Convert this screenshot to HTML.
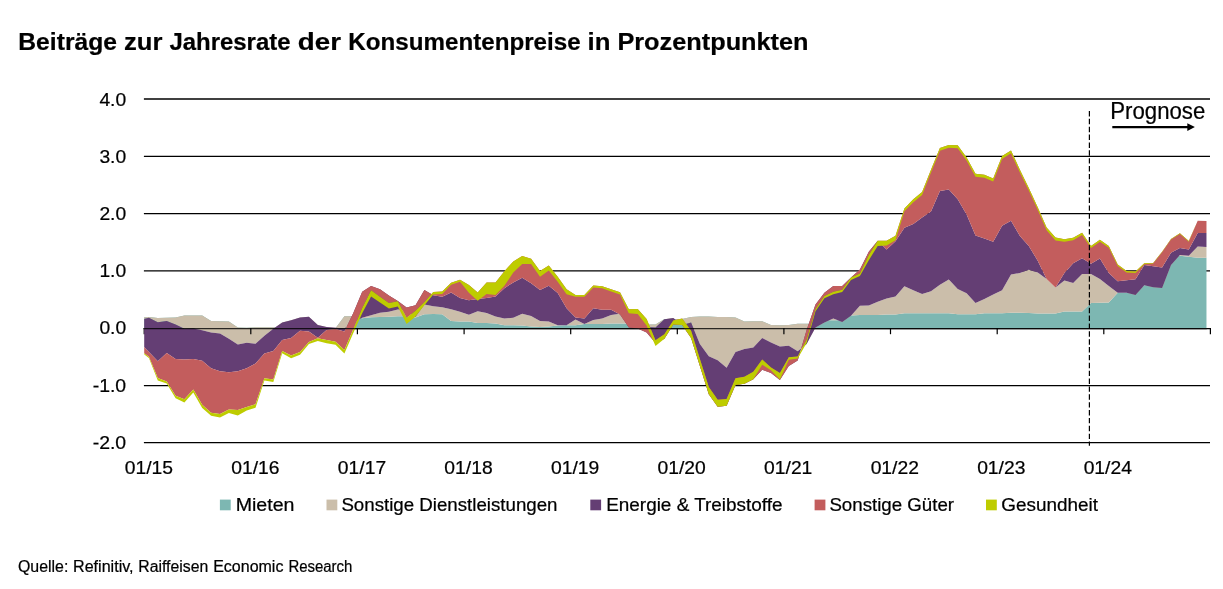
<!DOCTYPE html>
<html lang="de"><head><meta charset="utf-8"><title>Beiträge zur Jahresrate der Konsumentenpreise</title>
<style>html,body{margin:0;padding:0;background:#fff}svg{display:block}text{font-family:'Liberation Sans', Arial, sans-serif;fill:#000;stroke:#000;stroke-width:0.22px}</style></head><body>
<svg width="1223" height="589" viewBox="0 0 1223 589">
<rect width="1223" height="589" fill="#fff"/>
<text y="50.2" font-size="24.4" font-weight="bold"><tspan x="18.3" textLength="98.7" lengthAdjust="spacingAndGlyphs">Beiträge</tspan> <tspan x="124.0" textLength="38.4" lengthAdjust="spacingAndGlyphs">zur</tspan> <tspan x="169.4" textLength="121.1" lengthAdjust="spacingAndGlyphs">Jahresrate</tspan> <tspan x="297.8" textLength="43.2" lengthAdjust="spacingAndGlyphs">der</tspan> <tspan x="348.3" textLength="232.3" lengthAdjust="spacingAndGlyphs">Konsumentenpreise</tspan> <tspan x="587.6" textLength="22.9" lengthAdjust="spacingAndGlyphs">in</tspan> <tspan x="617.4" textLength="191.2" lengthAdjust="spacingAndGlyphs">Prozentpunkten</tspan></text>
<line x1="143.9" x2="1210.0" y1="99.00" y2="99.00" stroke="#000" stroke-width="1.3"/>
<line x1="143.9" x2="1210.0" y1="156.30" y2="156.30" stroke="#000" stroke-width="1.3"/>
<line x1="143.9" x2="1210.0" y1="213.70" y2="213.70" stroke="#000" stroke-width="1.3"/>
<line x1="143.9" x2="1210.0" y1="270.90" y2="270.90" stroke="#000" stroke-width="1.3"/>
<line x1="143.9" x2="1210.0" y1="385.55" y2="385.55" stroke="#000" stroke-width="1.3"/>
<line x1="143.9" x2="1210.0" y1="442.70" y2="442.70" stroke="#000" stroke-width="1.3"/>
<g font-size="18.5" text-anchor="end">
<text x="126.2" y="105.5" textLength="26.8" lengthAdjust="spacingAndGlyphs">4.0</text>
<text x="126.2" y="162.8" textLength="26.8" lengthAdjust="spacingAndGlyphs">3.0</text>
<text x="126.2" y="220.2" textLength="26.8" lengthAdjust="spacingAndGlyphs">2.0</text>
<text x="126.2" y="277.4" textLength="26.8" lengthAdjust="spacingAndGlyphs">1.0</text>
<text x="126.2" y="334.1" textLength="26.8" lengthAdjust="spacingAndGlyphs">0.0</text>
<text x="126.2" y="392.1" textLength="33.5" lengthAdjust="spacingAndGlyphs">-1.0</text>
<text x="126.2" y="449.2" textLength="33.5" lengthAdjust="spacingAndGlyphs">-2.0</text>
</g>
<line x1="143.6" x2="1211.0" y1="328.6" y2="328.6" stroke="#000" stroke-width="1.35"/>
<line x1="144.2" x2="144.2" y1="328" y2="334.2" stroke="#000" stroke-width="1.2"/>
<clipPath id="c"><rect x="144.2" y="90" width="1062.6" height="360"/></clipPath>
<g clip-path="url(#c)">
<path d="M140.0,317.5 L148.9,316.9 L157.8,318.1 L166.7,317.8 L175.6,317.5 L184.4,315.5 L193.3,315.5 L202.2,315.6 L211.1,321.0 L220.0,321.2 L228.9,321.4 L237.8,327.5 L246.7,327.7 L255.5,327.3 L264.4,327.3 L273.3,327.3 L282.2,327.3 L291.1,327.3 L300.0,327.3 L308.9,327.3 L317.8,327.9 L326.6,328.0 L335.5,328.2 L344.4,316.3 L353.3,316.3 L362.2,318.3 L371.1,317.3 L380.0,317.0 L388.9,316.8 L397.8,316.3 L406.6,316.3 L415.5,317.4 L424.4,314.3 L433.3,314.0 L442.2,314.3 L451.1,320.9 L460.0,321.5 L468.9,321.5 L477.7,323.1 L486.6,323.1 L495.5,323.5 L504.4,325.2 L513.3,325.2 L522.2,325.6 L531.1,326.6 L540.0,327.0 L548.8,326.6 L557.7,325.6 L566.6,325.2 L575.5,325.2 L584.4,324.1 L593.3,324.1 L602.2,324.1 L611.1,323.5 L620.0,323.5 L628.8,323.5 L637.7,324.5 L646.6,324.5 L655.5,324.5 L664.4,319.0 L673.3,319.0 L682.2,319.0 L691.1,316.9 L699.9,316.5 L708.8,316.5 L717.7,317.1 L726.6,317.1 L735.5,317.5 L744.4,321.6 L753.3,321.3 L762.2,321.2 L771.0,325.1 L779.9,325.3 L788.8,325.1 L797.7,323.8 L806.6,323.8 L815.5,323.8 L824.4,320.3 L833.3,320.3 L842.2,320.3 L851.0,315.5 L859.9,314.9 L868.8,314.9 L877.7,314.9 L886.6,314.5 L895.5,314.5 L904.4,313.3 L913.3,313.3 L922.1,313.3 L931.0,313.3 L939.9,313.3 L948.8,313.3 L957.7,314.3 L966.6,314.3 L975.5,314.3 L984.4,313.3 L993.2,313.3 L1002.1,313.3 L1011.0,312.7 L1019.9,312.7 L1028.8,313.0 L1037.7,313.6 L1046.6,313.6 L1055.5,313.6 L1064.4,311.6 L1073.2,311.6 L1082.1,311.6 L1091.0,303.0 L1099.9,302.8 L1108.8,302.4 L1117.7,292.8 L1126.6,292.8 L1135.5,292.8 L1144.3,285.3 L1153.2,285.3 L1162.1,285.3 L1171.0,255.8 L1179.9,255.8 L1188.8,256.8 L1197.7,257.8 L1206.6,257.8 L1206.6,328.3 L1197.7,328.3 L1188.8,328.3 L1179.9,328.3 L1171.0,328.3 L1162.1,328.3 L1153.2,328.3 L1144.3,328.3 L1135.5,328.3 L1126.6,328.3 L1117.7,328.3 L1108.8,328.3 L1099.9,328.3 L1091.0,328.3 L1082.1,328.3 L1073.2,328.3 L1064.4,328.3 L1055.5,328.3 L1046.6,328.3 L1037.7,328.3 L1028.8,328.3 L1019.9,328.3 L1011.0,328.3 L1002.1,328.3 L993.2,328.3 L984.4,328.3 L975.5,328.3 L966.6,328.3 L957.7,328.3 L948.8,328.3 L939.9,328.3 L931.0,328.3 L922.1,328.3 L913.3,328.3 L904.4,328.3 L895.5,328.3 L886.6,328.3 L877.7,328.3 L868.8,328.3 L859.9,328.3 L851.0,328.3 L842.2,328.3 L833.3,328.3 L824.4,328.3 L815.5,328.3 L806.6,328.3 L797.7,328.3 L788.8,328.3 L779.9,328.3 L771.0,328.3 L762.2,328.3 L753.3,328.3 L744.4,328.3 L735.5,328.3 L726.6,328.3 L717.7,328.3 L708.8,328.3 L699.9,328.3 L691.1,328.3 L682.2,328.3 L673.3,328.3 L664.4,328.3 L655.5,328.3 L646.6,328.3 L637.7,328.3 L628.8,328.3 L620.0,328.3 L611.1,328.3 L602.2,328.3 L593.3,328.3 L584.4,328.3 L575.5,328.3 L566.6,328.3 L557.7,328.3 L548.8,328.3 L540.0,328.3 L531.1,328.3 L522.2,328.3 L513.3,328.3 L504.4,328.3 L495.5,328.3 L486.6,328.3 L477.7,328.3 L468.9,328.3 L460.0,328.3 L451.1,328.3 L442.2,328.3 L433.3,328.3 L424.4,328.3 L415.5,328.3 L406.6,328.3 L397.8,328.3 L388.9,328.3 L380.0,328.3 L371.1,328.3 L362.2,328.3 L353.3,328.3 L344.4,328.3 L335.5,328.3 L326.6,328.3 L317.8,328.3 L308.9,328.3 L300.0,328.3 L291.1,328.3 L282.2,328.3 L273.3,328.3 L264.4,328.3 L255.5,328.3 L246.7,328.3 L237.8,328.3 L228.9,328.3 L220.0,328.3 L211.1,328.3 L202.2,328.3 L193.3,328.3 L184.4,328.3 L175.6,328.3 L166.7,328.3 L157.8,328.3 L148.9,328.3 L140.0,328.3Z" fill="#7DB7B2"/>
<path d="M140.0,320.1 L148.9,317.8 L157.8,322.2 L166.7,321.0 L175.6,324.5 L184.4,328.7 L193.3,328.5 L202.2,330.2 L211.1,332.6 L220.0,333.6 L228.9,338.7 L237.8,344.4 L246.7,342.8 L255.5,343.8 L264.4,335.8 L273.3,328.7 L282.2,322.6 L291.1,320.2 L300.0,317.5 L308.9,316.8 L317.8,325.0 L326.6,327.0 L335.5,327.7 L344.4,328.5 L353.3,322.0 L362.2,317.8 L371.1,315.2 L380.0,312.7 L388.9,311.7 L397.8,309.6 L406.6,310.0 L415.5,316.9 L424.4,304.6 L433.3,306.2 L442.2,307.2 L451.1,309.2 L460.0,311.8 L468.9,314.8 L477.7,311.3 L486.6,312.9 L495.5,316.4 L504.4,318.4 L513.3,317.8 L522.2,313.8 L531.1,316.0 L540.0,320.9 L548.8,321.5 L557.7,325.2 L566.6,325.2 L575.5,319.5 L584.4,323.9 L593.3,319.9 L602.2,318.4 L611.1,315.0 L620.0,313.8 L628.8,322.0 L637.7,326.0 L646.6,327.0 L655.5,327.6 L664.4,319.3 L673.3,317.9 L682.2,325.1 L691.1,322.6 L699.9,344.0 L708.8,356.2 L717.7,360.3 L726.6,367.8 L735.5,352.1 L744.4,349.1 L753.3,347.4 L762.2,338.0 L771.0,342.6 L779.9,346.5 L788.8,345.7 L797.7,351.3 L806.6,344.0 L815.5,327.5 L824.4,322.4 L833.3,318.6 L842.2,321.9 L851.0,315.8 L859.9,305.8 L868.8,305.4 L877.7,301.7 L886.6,298.6 L895.5,296.6 L904.4,286.2 L913.3,290.3 L922.1,294.0 L931.0,291.3 L939.9,284.8 L948.8,279.5 L957.7,288.9 L966.6,293.3 L975.5,302.9 L984.4,299.1 L993.2,294.4 L1002.1,290.3 L1011.0,274.6 L1019.9,273.0 L1028.8,269.8 L1037.7,272.5 L1046.6,279.1 L1055.5,287.4 L1064.4,280.4 L1073.2,283.1 L1082.1,273.9 L1091.0,273.9 L1099.9,279.0 L1108.8,286.1 L1117.7,292.8 L1126.6,292.8 L1135.5,294.9 L1144.3,285.3 L1153.2,287.3 L1162.1,287.9 L1171.0,264.9 L1179.9,255.1 L1188.8,255.8 L1197.7,246.6 L1206.6,247.0 L1206.6,257.8 L1197.7,257.8 L1188.8,256.8 L1179.9,255.8 L1171.0,255.8 L1162.1,285.3 L1153.2,285.3 L1144.3,285.3 L1135.5,292.8 L1126.6,292.8 L1117.7,292.8 L1108.8,302.4 L1099.9,302.8 L1091.0,303.0 L1082.1,311.6 L1073.2,311.6 L1064.4,311.6 L1055.5,313.6 L1046.6,313.6 L1037.7,313.6 L1028.8,313.0 L1019.9,312.7 L1011.0,312.7 L1002.1,313.3 L993.2,313.3 L984.4,313.3 L975.5,314.3 L966.6,314.3 L957.7,314.3 L948.8,313.3 L939.9,313.3 L931.0,313.3 L922.1,313.3 L913.3,313.3 L904.4,313.3 L895.5,314.5 L886.6,314.5 L877.7,314.9 L868.8,314.9 L859.9,314.9 L851.0,315.5 L842.2,320.3 L833.3,320.3 L824.4,320.3 L815.5,323.8 L806.6,323.8 L797.7,323.8 L788.8,325.1 L779.9,325.3 L771.0,325.1 L762.2,321.2 L753.3,321.3 L744.4,321.6 L735.5,317.5 L726.6,317.1 L717.7,317.1 L708.8,316.5 L699.9,316.5 L691.1,316.9 L682.2,319.0 L673.3,319.0 L664.4,319.0 L655.5,324.5 L646.6,324.5 L637.7,324.5 L628.8,323.5 L620.0,323.5 L611.1,323.5 L602.2,324.1 L593.3,324.1 L584.4,324.1 L575.5,325.2 L566.6,325.2 L557.7,325.6 L548.8,326.6 L540.0,327.0 L531.1,326.6 L522.2,325.6 L513.3,325.2 L504.4,325.2 L495.5,323.5 L486.6,323.1 L477.7,323.1 L468.9,321.5 L460.0,321.5 L451.1,320.9 L442.2,314.3 L433.3,314.0 L424.4,314.3 L415.5,317.4 L406.6,316.3 L397.8,316.3 L388.9,316.8 L380.0,317.0 L371.1,317.3 L362.2,318.3 L353.3,316.3 L344.4,316.3 L335.5,328.2 L326.6,328.0 L317.8,327.9 L308.9,327.3 L300.0,327.3 L291.1,327.3 L282.2,327.3 L273.3,327.3 L264.4,327.3 L255.5,327.3 L246.7,327.7 L237.8,327.5 L228.9,321.4 L220.0,321.2 L211.1,321.0 L202.2,315.6 L193.3,315.5 L184.4,315.5 L175.6,317.5 L166.7,317.8 L157.8,318.1 L148.9,316.9 L140.0,317.5Z" fill="#CBBEAA"/>
<path d="M140.0,343.0 L148.9,351.9 L157.8,361.3 L166.7,352.9 L175.6,359.1 L184.4,359.5 L193.3,359.1 L202.2,360.7 L211.1,368.3 L220.0,371.3 L228.9,372.3 L237.8,371.3 L246.7,368.3 L255.5,363.6 L264.4,353.6 L273.3,351.1 L282.2,339.9 L291.1,337.9 L300.0,330.7 L308.9,331.4 L317.8,337.7 L326.6,330.1 L335.5,329.0 L344.4,331.6 L353.3,313.0 L362.2,291.8 L371.1,286.0 L380.0,289.3 L388.9,295.4 L397.8,301.0 L406.6,307.6 L415.5,305.2 L424.4,290.1 L433.3,295.3 L442.2,296.7 L451.1,292.6 L460.0,298.0 L468.9,300.2 L477.7,299.1 L486.6,298.1 L495.5,296.6 L504.4,288.2 L513.3,282.4 L522.2,277.7 L531.1,283.2 L540.0,289.9 L548.8,285.8 L557.7,293.0 L566.6,308.3 L575.5,317.4 L584.4,318.4 L593.3,308.3 L602.2,309.7 L611.1,309.7 L620.0,314.4 L628.8,327.6 L637.7,328.6 L646.6,332.5 L655.5,342.9 L664.4,338.8 L673.3,324.6 L682.2,325.1 L691.1,337.9 L699.9,366.0 L708.8,394.2 L717.7,406.7 L726.6,405.7 L735.5,385.0 L744.4,383.7 L753.3,379.3 L762.2,369.8 L771.0,372.9 L779.9,380.0 L788.8,366.0 L797.7,360.4 L806.6,330.0 L815.5,304.5 L824.4,292.8 L833.3,286.0 L842.2,286.0 L851.0,277.5 L859.9,269.6 L868.8,251.8 L877.7,240.8 L886.6,249.5 L895.5,241.3 L904.4,227.8 L913.3,224.1 L922.1,217.6 L931.0,211.5 L939.9,191.1 L948.8,189.5 L957.7,199.3 L966.6,214.6 L975.5,235.5 L984.4,238.6 L993.2,241.7 L1002.1,225.8 L1011.0,220.7 L1019.9,236.0 L1028.8,246.0 L1037.7,260.7 L1046.6,279.1 L1055.5,287.4 L1064.4,272.9 L1073.2,263.3 L1082.1,258.2 L1091.0,263.7 L1099.9,258.6 L1108.8,272.9 L1117.7,281.2 L1126.6,280.2 L1135.5,279.2 L1144.3,264.9 L1153.2,266.3 L1162.1,267.6 L1171.0,252.7 L1179.9,248.0 L1188.8,249.6 L1197.7,232.9 L1206.6,232.9 L1206.6,247.0 L1197.7,246.6 L1188.8,255.8 L1179.9,255.1 L1171.0,264.9 L1162.1,287.9 L1153.2,287.3 L1144.3,285.3 L1135.5,294.9 L1126.6,292.8 L1117.7,292.8 L1108.8,286.1 L1099.9,279.0 L1091.0,273.9 L1082.1,273.9 L1073.2,283.1 L1064.4,280.4 L1055.5,287.4 L1046.6,279.1 L1037.7,272.5 L1028.8,269.8 L1019.9,273.0 L1011.0,274.6 L1002.1,290.3 L993.2,294.4 L984.4,299.1 L975.5,302.9 L966.6,293.3 L957.7,288.9 L948.8,279.5 L939.9,284.8 L931.0,291.3 L922.1,294.0 L913.3,290.3 L904.4,286.2 L895.5,296.6 L886.6,298.6 L877.7,301.7 L868.8,305.4 L859.9,305.8 L851.0,315.8 L842.2,321.9 L833.3,318.6 L824.4,322.4 L815.5,327.5 L806.6,344.0 L797.7,351.3 L788.8,345.7 L779.9,346.5 L771.0,342.6 L762.2,338.0 L753.3,347.4 L744.4,349.1 L735.5,352.1 L726.6,367.8 L717.7,360.3 L708.8,356.2 L699.9,344.0 L691.1,322.6 L682.2,325.1 L673.3,317.9 L664.4,319.3 L655.5,327.6 L646.6,327.0 L637.7,326.0 L628.8,322.0 L620.0,313.8 L611.1,315.0 L602.2,318.4 L593.3,319.9 L584.4,323.9 L575.5,319.5 L566.6,325.2 L557.7,325.2 L548.8,321.5 L540.0,320.9 L531.1,316.0 L522.2,313.8 L513.3,317.8 L504.4,318.4 L495.5,316.4 L486.6,312.9 L477.7,311.3 L468.9,314.8 L460.0,311.8 L451.1,309.2 L442.2,307.2 L433.3,306.2 L424.4,304.6 L415.5,316.9 L406.6,310.0 L397.8,309.6 L388.9,311.7 L380.0,312.7 L371.1,315.2 L362.2,317.8 L353.3,322.0 L344.4,328.5 L335.5,327.7 L326.6,327.0 L317.8,325.0 L308.9,316.8 L300.0,317.5 L291.1,320.2 L282.2,322.6 L273.3,328.7 L264.4,335.8 L255.5,343.8 L246.7,342.8 L237.8,344.4 L228.9,338.7 L220.0,333.6 L211.1,332.6 L202.2,330.2 L193.3,328.5 L184.4,328.7 L175.6,324.5 L166.7,321.0 L157.8,322.2 L148.9,317.8 L140.0,320.1Z" fill="#643E74"/>
<path d="M140.0,349.9 L148.9,356.7 L157.8,378.1 L166.7,381.4 L175.6,395.7 L184.4,399.2 L193.3,389.5 L202.2,404.8 L211.1,412.7 L220.0,414.0 L228.9,409.4 L237.8,409.9 L246.7,406.9 L255.5,404.3 L264.4,378.3 L273.3,379.4 L282.2,351.1 L291.1,355.6 L300.0,352.1 L308.9,342.0 L317.8,338.2 L326.6,339.9 L335.5,341.8 L344.4,349.9 L353.3,329.2 L362.2,308.1 L371.1,290.3 L380.0,296.7 L388.9,303.0 L397.8,301.3 L406.6,317.8 L415.5,310.8 L424.4,302.1 L433.3,291.9 L442.2,291.6 L451.1,282.7 L460.0,279.7 L468.9,285.1 L477.7,292.6 L486.6,282.4 L495.5,282.4 L504.4,271.2 L513.3,261.4 L522.2,255.9 L531.1,258.7 L540.0,271.0 L548.8,265.5 L557.7,276.7 L566.6,289.2 L575.5,294.9 L584.4,295.0 L593.3,285.4 L602.2,286.2 L611.1,289.3 L620.0,292.3 L628.8,309.3 L637.7,309.1 L646.6,318.9 L655.5,340.3 L664.4,334.2 L673.3,320.5 L682.2,318.6 L691.1,330.8 L699.9,359.0 L708.8,387.1 L717.7,399.8 L726.6,399.0 L735.5,378.2 L744.4,376.8 L753.3,371.7 L762.2,359.6 L771.0,367.4 L779.9,372.9 L788.8,357.2 L797.7,356.4 L806.6,339.5 L815.5,309.1 L824.4,295.9 L833.3,291.8 L842.2,289.8 L851.0,277.5 L859.9,273.4 L868.8,255.1 L877.7,240.8 L886.6,240.8 L895.5,235.7 L904.4,208.4 L913.3,199.3 L922.1,192.1 L931.0,169.7 L939.9,147.9 L948.8,144.9 L957.7,145.3 L966.6,157.5 L975.5,173.8 L984.4,174.8 L993.2,178.5 L1002.1,156.1 L1011.0,150.4 L1019.9,169.7 L1028.8,187.9 L1037.7,207.2 L1046.6,227.6 L1055.5,237.5 L1064.4,239.2 L1073.2,237.8 L1082.1,232.7 L1091.0,245.9 L1099.9,239.8 L1108.8,246.0 L1117.7,264.5 L1126.6,271.0 L1135.5,271.5 L1144.3,263.3 L1153.2,262.9 L1162.1,251.7 L1171.0,239.0 L1179.9,233.3 L1188.8,241.1 L1197.7,220.7 L1206.6,221.1 L1206.6,232.9 L1197.7,232.9 L1188.8,249.6 L1179.9,248.0 L1171.0,252.7 L1162.1,267.6 L1153.2,266.3 L1144.3,264.9 L1135.5,279.2 L1126.6,280.2 L1117.7,281.2 L1108.8,272.9 L1099.9,258.6 L1091.0,263.7 L1082.1,258.2 L1073.2,263.3 L1064.4,272.9 L1055.5,287.4 L1046.6,279.1 L1037.7,260.7 L1028.8,246.0 L1019.9,236.0 L1011.0,220.7 L1002.1,225.8 L993.2,241.7 L984.4,238.6 L975.5,235.5 L966.6,214.6 L957.7,199.3 L948.8,189.5 L939.9,191.1 L931.0,211.5 L922.1,217.6 L913.3,224.1 L904.4,227.8 L895.5,241.3 L886.6,249.5 L877.7,240.8 L868.8,251.8 L859.9,269.6 L851.0,277.5 L842.2,286.0 L833.3,286.0 L824.4,292.8 L815.5,304.5 L806.6,330.0 L797.7,360.4 L788.8,366.0 L779.9,380.0 L771.0,372.9 L762.2,369.8 L753.3,379.3 L744.4,383.7 L735.5,385.0 L726.6,405.7 L717.7,406.7 L708.8,394.2 L699.9,366.0 L691.1,337.9 L682.2,325.1 L673.3,324.6 L664.4,338.8 L655.5,342.9 L646.6,332.5 L637.7,328.6 L628.8,327.6 L620.0,314.4 L611.1,309.7 L602.2,309.7 L593.3,308.3 L584.4,318.4 L575.5,317.4 L566.6,308.3 L557.7,293.0 L548.8,285.8 L540.0,289.9 L531.1,283.2 L522.2,277.7 L513.3,282.4 L504.4,288.2 L495.5,296.6 L486.6,298.1 L477.7,299.1 L468.9,300.2 L460.0,298.0 L451.1,292.6 L442.2,296.7 L433.3,295.3 L424.4,290.1 L415.5,305.2 L406.6,307.6 L397.8,301.0 L388.9,295.4 L380.0,289.3 L371.1,286.0 L362.2,291.8 L353.3,313.0 L344.4,331.6 L335.5,329.0 L326.6,330.1 L317.8,337.7 L308.9,331.4 L300.0,330.7 L291.1,337.9 L282.2,339.9 L273.3,351.1 L264.4,353.6 L255.5,363.6 L246.7,368.3 L237.8,371.3 L228.9,372.3 L220.0,371.3 L211.1,368.3 L202.2,360.7 L193.3,359.1 L184.4,359.5 L175.6,359.1 L166.7,352.9 L157.8,361.3 L148.9,351.9 L140.0,343.0Z" fill="#C35D5D"/>
<path d="M140.0,351.1 L148.9,357.9 L157.8,380.4 L166.7,383.6 L175.6,398.2 L184.4,402.6 L193.3,392.4 L202.2,407.9 L211.1,415.7 L220.0,417.4 L228.9,413.0 L237.8,415.5 L246.7,410.6 L255.5,407.7 L264.4,380.4 L273.3,381.9 L282.2,353.3 L291.1,358.3 L300.0,354.8 L308.9,344.0 L317.8,341.0 L326.6,343.3 L335.5,344.8 L344.4,353.5 L353.3,333.0 L362.2,313.2 L371.1,296.4 L380.0,302.5 L388.9,308.6 L397.8,306.6 L406.6,323.9 L415.5,316.4 L424.4,305.2 L433.3,294.5 L442.2,293.9 L451.1,284.8 L460.0,281.7 L468.9,292.8 L477.7,300.7 L486.6,294.0 L495.5,295.0 L504.4,285.7 L513.3,272.6 L522.2,264.0 L531.1,264.0 L540.0,276.7 L548.8,270.6 L557.7,281.7 L566.6,294.2 L575.5,296.8 L584.4,296.8 L593.3,287.4 L602.2,288.2 L611.1,291.6 L620.0,294.5 L628.8,313.3 L637.7,313.9 L646.6,325.6 L655.5,346.0 L664.4,338.8 L673.3,324.6 L682.2,325.1 L691.1,337.9 L699.9,366.0 L708.8,394.2 L717.7,406.7 L726.6,405.7 L735.5,385.0 L744.4,383.7 L753.3,379.3 L762.2,364.7 L771.0,370.2 L779.9,379.6 L788.8,359.7 L797.7,358.4 L806.6,343.0 L815.5,311.2 L824.4,298.2 L833.3,294.2 L842.2,292.1 L851.0,280.0 L859.9,275.9 L868.8,260.2 L877.7,245.9 L886.6,245.4 L895.5,240.3 L904.4,211.3 L913.3,202.2 L922.1,195.0 L931.0,172.6 L939.9,150.8 L948.8,147.8 L957.7,148.2 L966.6,160.4 L975.5,176.7 L984.4,177.7 L993.2,181.4 L1002.1,159.0 L1011.0,153.3 L1019.9,172.5 L1028.8,190.5 L1037.7,209.8 L1046.6,230.2 L1055.5,240.4 L1064.4,241.7 L1073.2,240.3 L1082.1,235.0 L1091.0,248.0 L1099.9,241.8 L1108.8,247.7 L1117.7,266.0 L1126.6,272.5 L1135.5,273.0 L1144.3,264.3 L1153.2,263.5 L1162.1,252.3 L1171.0,239.6 L1179.9,233.9 L1188.8,241.7 L1197.7,220.7 L1206.6,221.1 L1206.6,221.1 L1197.7,220.7 L1188.8,241.1 L1179.9,233.3 L1171.0,239.0 L1162.1,251.7 L1153.2,262.9 L1144.3,263.3 L1135.5,271.5 L1126.6,271.0 L1117.7,264.5 L1108.8,246.0 L1099.9,239.8 L1091.0,245.9 L1082.1,232.7 L1073.2,237.8 L1064.4,239.2 L1055.5,237.5 L1046.6,227.6 L1037.7,207.2 L1028.8,187.9 L1019.9,169.7 L1011.0,150.4 L1002.1,156.1 L993.2,178.5 L984.4,174.8 L975.5,173.8 L966.6,157.5 L957.7,145.3 L948.8,144.9 L939.9,147.9 L931.0,169.7 L922.1,192.1 L913.3,199.3 L904.4,208.4 L895.5,235.7 L886.6,240.8 L877.7,240.8 L868.8,255.1 L859.9,273.4 L851.0,277.5 L842.2,289.8 L833.3,291.8 L824.4,295.9 L815.5,309.1 L806.6,339.5 L797.7,356.4 L788.8,357.2 L779.9,372.9 L771.0,367.4 L762.2,359.6 L753.3,371.7 L744.4,376.8 L735.5,378.2 L726.6,399.0 L717.7,399.8 L708.8,387.1 L699.9,359.0 L691.1,330.8 L682.2,318.6 L673.3,320.5 L664.4,334.2 L655.5,340.3 L646.6,318.9 L637.7,309.1 L628.8,309.3 L620.0,292.3 L611.1,289.3 L602.2,286.2 L593.3,285.4 L584.4,295.0 L575.5,294.9 L566.6,289.2 L557.7,276.7 L548.8,265.5 L540.0,271.0 L531.1,258.7 L522.2,255.9 L513.3,261.4 L504.4,271.2 L495.5,282.4 L486.6,282.4 L477.7,292.6 L468.9,285.1 L460.0,279.7 L451.1,282.7 L442.2,291.6 L433.3,291.9 L424.4,302.1 L415.5,310.8 L406.6,317.8 L397.8,301.3 L388.9,303.0 L380.0,296.7 L371.1,290.3 L362.2,308.1 L353.3,329.2 L344.4,349.9 L335.5,341.8 L326.6,339.9 L317.8,338.2 L308.9,342.0 L300.0,352.1 L291.1,355.6 L282.2,351.1 L273.3,379.4 L264.4,378.3 L255.5,404.3 L246.7,406.9 L237.8,409.9 L228.9,409.4 L220.0,414.0 L211.1,412.7 L202.2,404.8 L193.3,389.5 L184.4,399.2 L175.6,395.7 L166.7,381.4 L157.8,378.1 L148.9,356.7 L140.0,349.9Z" fill="#BECC00"/>
</g>
<line x1="144.2" x2="1206.8" y1="328.6" y2="328.6" stroke="#000" stroke-opacity="0.8" stroke-width="1.3"/>
<line x1="250.8" x2="250.8" y1="328" y2="334.2" stroke="#000" stroke-width="1.2"/>
<line x1="357.4" x2="357.4" y1="328" y2="334.2" stroke="#000" stroke-width="1.2"/>
<line x1="464.1" x2="464.1" y1="328" y2="334.2" stroke="#000" stroke-width="1.2"/>
<line x1="570.7" x2="570.7" y1="328" y2="334.2" stroke="#000" stroke-width="1.2"/>
<line x1="677.3" x2="677.3" y1="328" y2="334.2" stroke="#000" stroke-width="1.2"/>
<line x1="783.9" x2="783.9" y1="328" y2="334.2" stroke="#000" stroke-width="1.2"/>
<line x1="890.5" x2="890.5" y1="328" y2="334.2" stroke="#000" stroke-width="1.2"/>
<line x1="997.2" x2="997.2" y1="328" y2="334.2" stroke="#000" stroke-width="1.2"/>
<line x1="1103.8" x2="1103.8" y1="328" y2="334.2" stroke="#000" stroke-width="1.2"/>
<line x1="1210.4" x2="1210.4" y1="328" y2="334.2" stroke="#000" stroke-width="1.2"/>
<g font-size="18.5" text-anchor="middle">
<text x="148.9" y="473.8" textLength="48.3" lengthAdjust="spacingAndGlyphs">01/15</text>
<text x="255.4" y="473.8" textLength="48.3" lengthAdjust="spacingAndGlyphs">01/16</text>
<text x="362.0" y="473.8" textLength="48.3" lengthAdjust="spacingAndGlyphs">01/17</text>
<text x="468.5" y="473.8" textLength="48.3" lengthAdjust="spacingAndGlyphs">01/18</text>
<text x="575.1" y="473.8" textLength="48.3" lengthAdjust="spacingAndGlyphs">01/19</text>
<text x="681.6" y="473.8" textLength="48.3" lengthAdjust="spacingAndGlyphs">01/20</text>
<text x="788.2" y="473.8" textLength="48.3" lengthAdjust="spacingAndGlyphs">01/21</text>
<text x="894.8" y="473.8" textLength="48.3" lengthAdjust="spacingAndGlyphs">01/22</text>
<text x="1001.3" y="473.8" textLength="48.3" lengthAdjust="spacingAndGlyphs">01/23</text>
<text x="1107.8" y="473.8" textLength="48.3" lengthAdjust="spacingAndGlyphs">01/24</text>
</g>
<line x1="1089.4" x2="1089.4" y1="111" y2="445.8" stroke="#000" stroke-width="1.2" stroke-dasharray="5.4 2.47"/>
<text x="1110.3" y="118.7" font-size="23" textLength="95" lengthAdjust="spacingAndGlyphs">Prognose</text>
<line x1="1112.3" x2="1188.5" y1="127.1" y2="127.1" stroke="#000" stroke-width="2.2"/>
<path d="M1187.3,123.2 L1194.9,127.1 L1187.3,131 Z" fill="#000"/>
<g font-size="18.3">
<rect x="219.9" y="499.6" width="10.8" height="10.7" fill="#7DB7B2"/>
<text x="235.7" y="510.7" textLength="58.8" lengthAdjust="spacingAndGlyphs">Mieten</text>
<rect x="326.5" y="499.6" width="10.8" height="10.7" fill="#CBBEAA"/>
<text x="341.4" y="510.7" textLength="216.1" lengthAdjust="spacingAndGlyphs">Sonstige Dienstleistungen</text>
<rect x="590.3" y="499.6" width="10.8" height="10.7" fill="#643E74"/>
<text x="606.2" y="510.7" textLength="176.3" lengthAdjust="spacingAndGlyphs">Energie &amp; Treibstoffe</text>
<rect x="814.6" y="499.6" width="10.8" height="10.7" fill="#C35D5D"/>
<text x="829.4" y="510.7" textLength="124.7" lengthAdjust="spacingAndGlyphs">Sonstige Güter</text>
<rect x="986.0" y="499.6" width="10.8" height="10.7" fill="#BECC00"/>
<text x="1001.3" y="510.7" textLength="96.6" lengthAdjust="spacingAndGlyphs">Gesundheit</text>
</g>
<text y="572.3" font-size="16"><tspan x="18.0" textLength="50.3" lengthAdjust="spacingAndGlyphs">Quelle:</tspan> <tspan x="73.0" textLength="60.6" lengthAdjust="spacingAndGlyphs">Refinitiv,</tspan> <tspan x="138.3" textLength="69.9" lengthAdjust="spacingAndGlyphs">Raiffeisen</tspan> <tspan x="213.2" textLength="70.2" lengthAdjust="spacingAndGlyphs">Economic</tspan> <tspan x="288.4" textLength="64.0" lengthAdjust="spacingAndGlyphs">Research</tspan></text>
</svg></body></html>
